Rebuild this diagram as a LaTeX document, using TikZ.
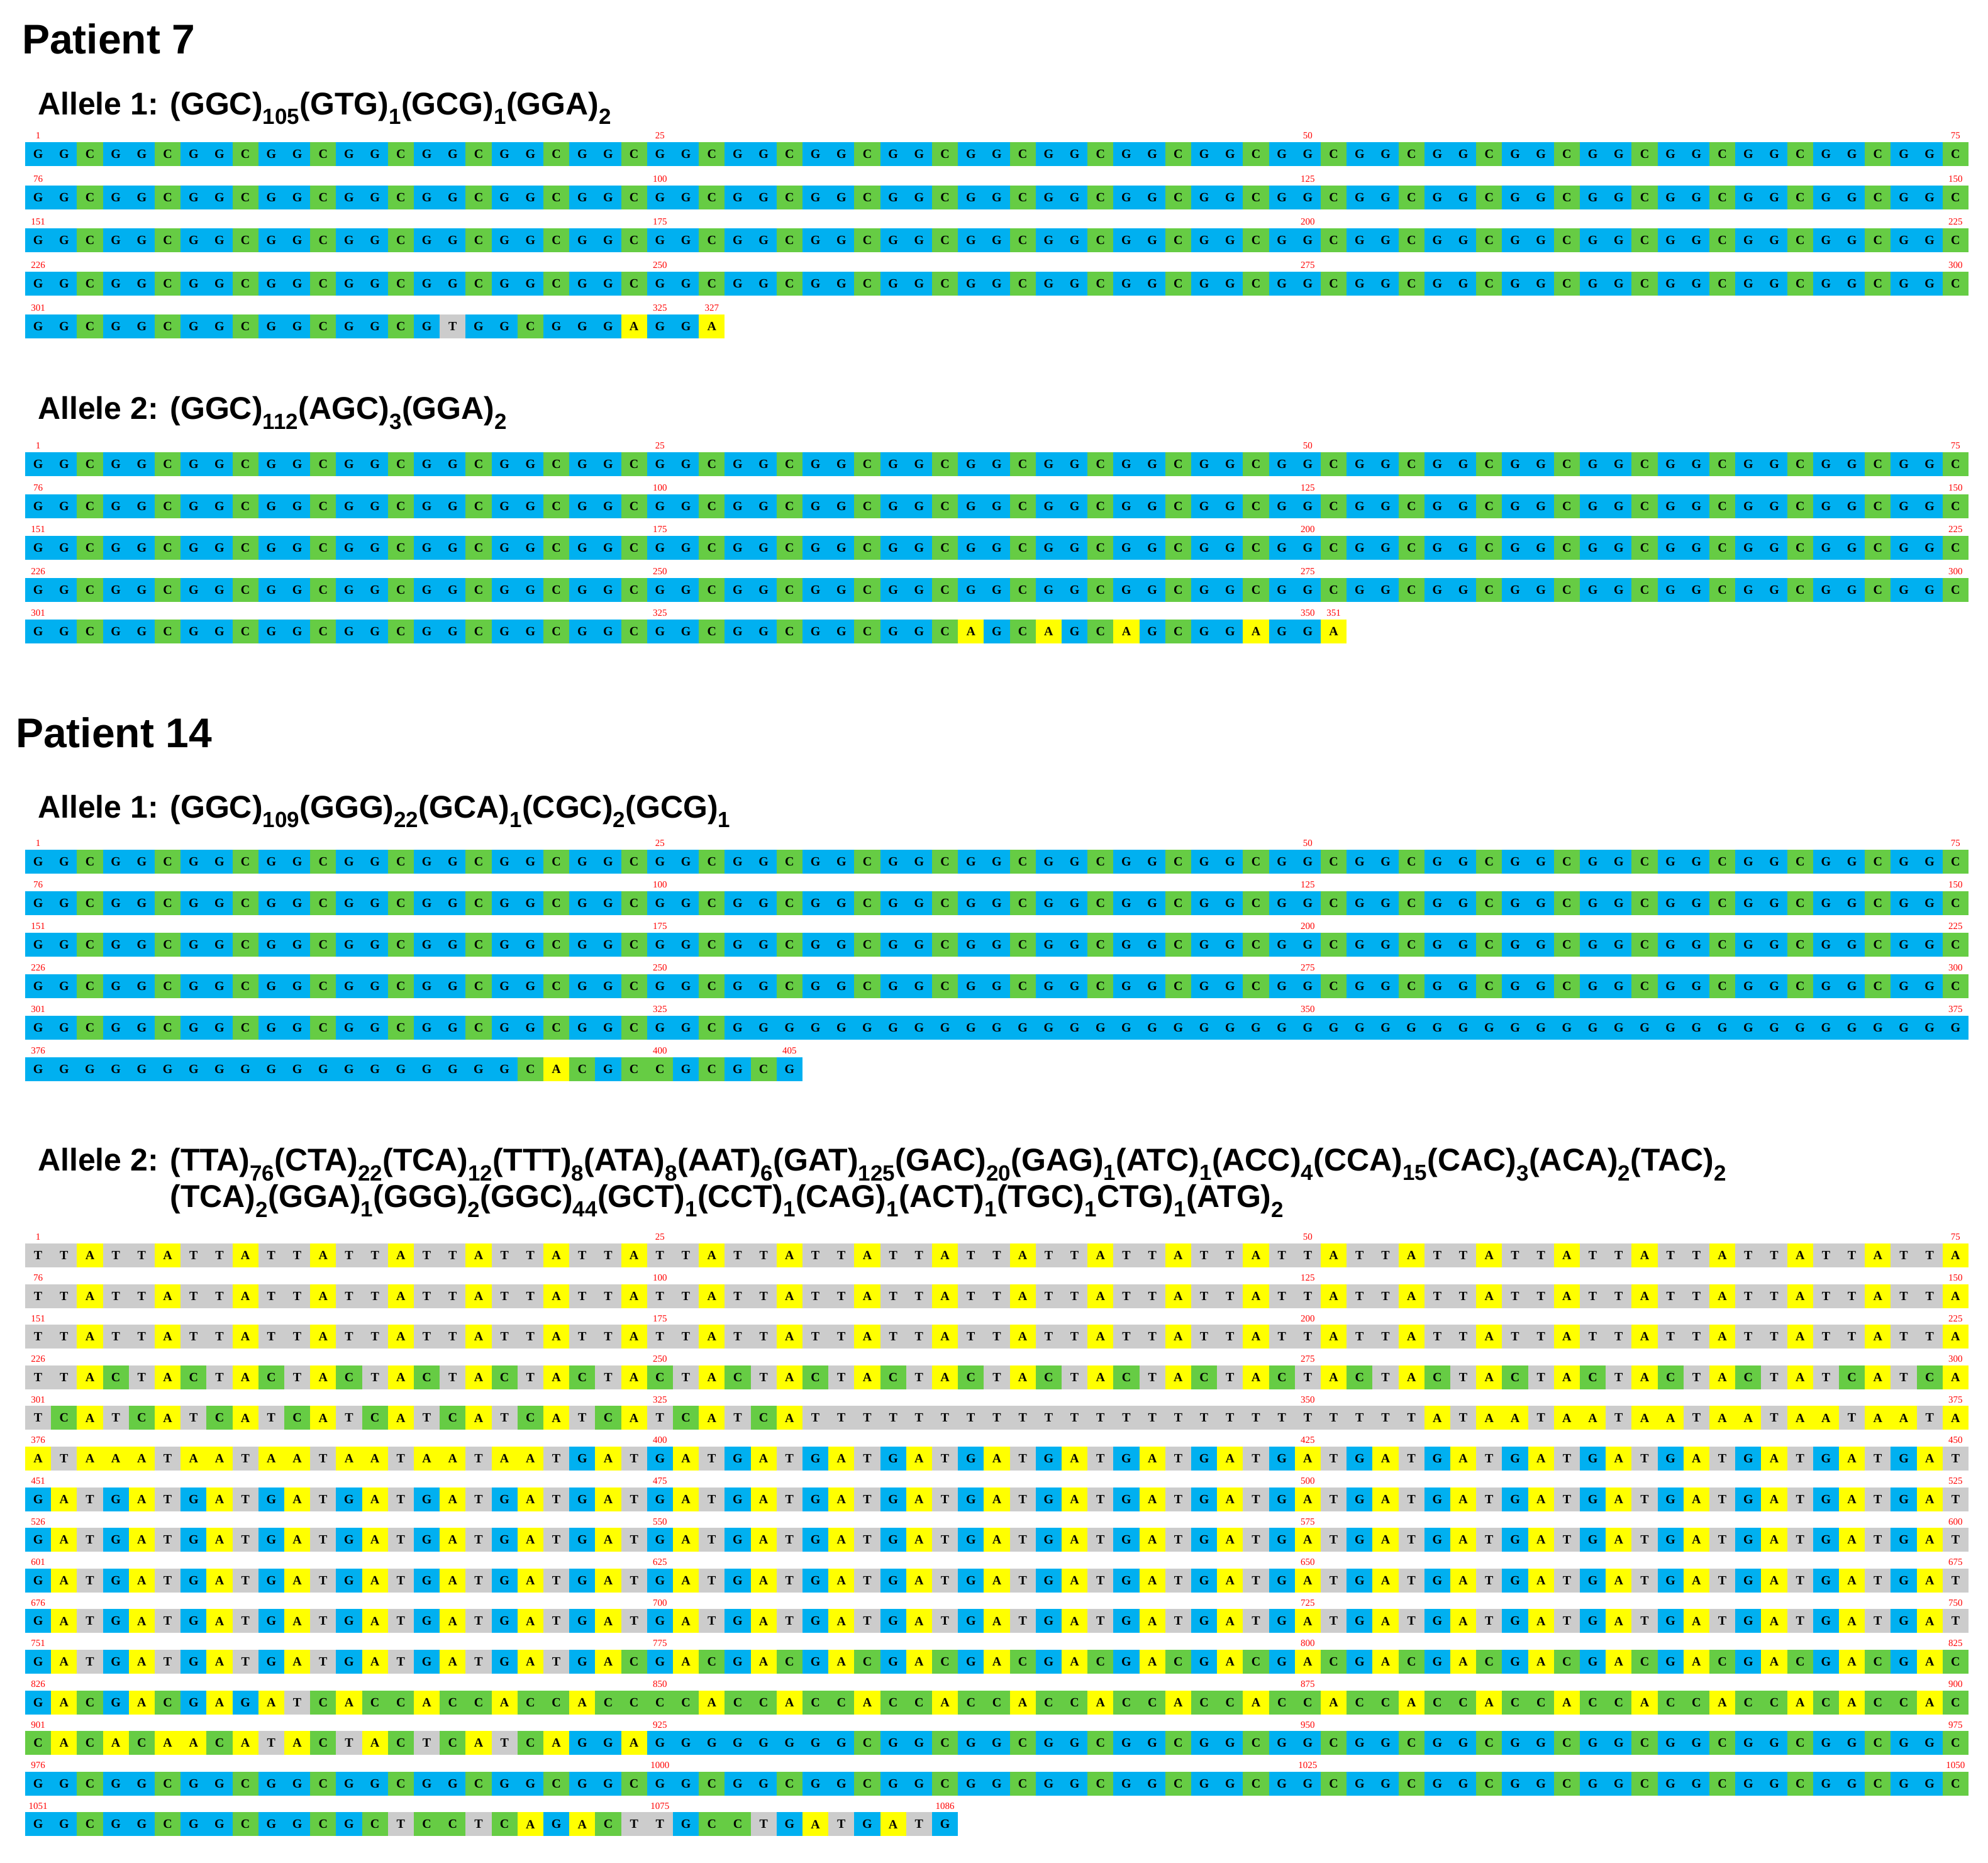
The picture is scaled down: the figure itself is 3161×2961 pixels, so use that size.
\documentclass[tikz,border=0pt]{standalone}
\usepackage{fontspec}
\setmainfont{Liberation Serif}
\newfontfamily\hfont{Liberation Sans}
\definecolor{cG}{HTML}{00B0F0}
\definecolor{cC}{HTML}{66CC44}
\definecolor{cA}{HTML}{FFFF00}
\definecolor{cT}{HTML}{CCCCCC}
\tikzset{
 cell/.style={minimum width=41.3pt,minimum height=38pt,inner sep=0pt,font=\fontsize{20}{20}\selectfont\bfseries},
 lab/.style={inner sep=0pt,text=red,font=\fontsize{15}{15}\selectfont},
 ptitle/.style={anchor=west,inner sep=0pt,font=\hfont\fontsize{66}{66}\selectfont\bfseries},
 ahead/.style={anchor=west,inner sep=0pt,font=\hfont\fontsize{50}{58}\selectfont\bfseries}
}
\ExplSyntaxOn
\int_new:N \l_sq_i_int
\int_new:N \l_sq_n_int
\int_new:N \l_sq_r_int
\int_new:N \l_sq_c_int
\cs_new:Npn \Rep #1#2 {\prg_replicate:nn{#1}{#2}}
\cs_new_protected:Npn \sq_draw:nnnn #1#2#3#4
 {
  \int_zero:N \l_sq_i_int
  \int_set:Nn \l_sq_n_int {\tl_count:n {#4}}
  \tl_map_inline:nn {#4}
   {
    \int_set:Nn \l_sq_r_int {\int_div_truncate:nn {\l_sq_i_int}{75}}
    \int_set:Nn \l_sq_c_int {\int_mod:nn {\l_sq_i_int}{75}}
    \node[cell,fill=c##1]~(s#1-\int_use:N\l_sq_i_int)~at~(\fp_eval:n{60.6+41.2*\l_sq_c_int},\fp_eval:n{-(#2+#3*\l_sq_r_int)})~{##1};
    \bool_if:nT { \int_compare_p:n {\l_sq_c_int=0} || \int_compare_p:n {\l_sq_c_int=24} || \int_compare_p:n {\l_sq_c_int=49} || \int_compare_p:n {\l_sq_c_int=74} || \int_compare_p:n {\l_sq_i_int=\l_sq_n_int-1} }
     {
      \node[lab]~at~(\fp_eval:n{60.6+41.2*\l_sq_c_int},\fp_eval:n{-(#2+#3*\l_sq_r_int-29)})~{\int_eval:n{\l_sq_i_int+1}};
     }
    \int_incr:N \l_sq_i_int
   }
 }
\cs_generate_variant:Nn \sq_draw:nnnn {nnnx}
\cs_new_protected:Npn \SeqDraw #1#2#3#4 {\sq_draw:nnnx{#1}{#2}{#3}{#4}}
\ExplSyntaxOff
\newcommand\subn[1]{\textsubscript{#1}}
\begin{document}
\begin{tikzpicture}[x=1pt,y=1pt]
\useasboundingbox (0,0) rectangle (3161,-2961);
\fill[white] (0,0) rectangle (3161,-2961);
\node[ptitle] (p7) at (35,-62) {Patient 7};
\node[ahead] (p7a1) at (60,-172) {Allele 1: (GGC)\subn{105}(GTG)\subn{1}(GCG)\subn{1}(GGA)\subn{2}};
\SeqDraw{a}{245}{68.5}{\Rep{105}{GGC}GTGGCG\Rep{2}{GGA}}
\node[ahead] (p7a2) at (60,-657) {Allele 2: (GGC)\subn{112}(AGC)\subn{3}(GGA)\subn{2}};
\SeqDraw{b}{738}{66.5}{\Rep{112}{GGC}\Rep{3}{AGC}\Rep{2}{GGA}}
\node[ptitle] (p14) at (25,-1165) {Patient 14};
\node[ahead] (p14a1) at (60,-1290) {Allele 1: (GGC)\subn{109}(GGG)\subn{22}(GCA)\subn{1}(CGC)\subn{2}(GCG)\subn{1}};
\SeqDraw{c}{1370}{66}{\Rep{109}{GGC}\Rep{22}{GGG}GCA\Rep{2}{CGC}GCG}
\node[ahead,align=left] (p14a2) at (60,-1880) {Allele 2: (TTA)\subn{76}(CTA)\subn{22}(TCA)\subn{12}(TTT)\subn{8}(ATA)\subn{8}(AAT)\subn{6}(GAT)\subn{125}(GAC)\subn{20}(GAG)\subn{1}(ATC)\subn{1}(ACC)\subn{4}(CCA)\subn{15}(CAC)\subn{3}(ACA)\subn{2}(TAC)\subn{2}\\
\hphantom{Allele 2: }(TCA)\subn{2}(GGA)\subn{1}(GGG)\subn{2}(GGC)\subn{44}(GCT)\subn{1}(CCT)\subn{1}(CAG)\subn{1}(ACT)\subn{1}(TGC)\subn{1}CTG)\subn{1}(ATG)\subn{2}};
\SeqDraw{d}{1996}{64.6}{\Rep{76}{TTA}\Rep{22}{CTA}\Rep{12}{TCA}\Rep{8}{TTT}\Rep{8}{ATA}\Rep{6}{AAT}\Rep{125}{GAT}\Rep{20}{GAC}GAGATC\Rep{4}{ACC}\Rep{15}{CCA}\Rep{3}{CAC}\Rep{2}{ACA}\Rep{2}{TAC}\Rep{2}{TCA}GGA\Rep{2}{GGG}\Rep{44}{GGC}GCTCCTCAGACTTGCCTG\Rep{2}{ATG}}
\end{tikzpicture}
\end{document}
